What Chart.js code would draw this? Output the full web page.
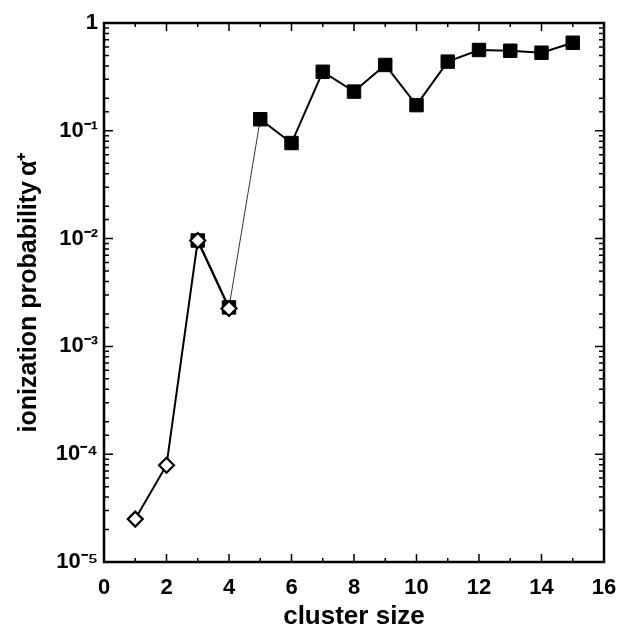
<!DOCTYPE html>
<html>
<head>
<meta charset="utf-8">
<script src="https://cdn.jsdelivr.net/npm/chart.js@4"></script>
<style>
  html, body { margin: 0; padding: 0; background: #fff; }
  #wrap { width: 619px; height: 632px; }
</style>
</head>
<body>
<div id="wrap"><canvas id="c" width="619" height="632"></canvas></div>
<script>
// ---- data ----
const diamondSizes = [1, 2, 3, 4];
const diamondValues = [2.5e-5, 7.9e-5, 9.6e-3, 2.25e-3];
const squareSizes = [3, 4, 5, 6, 7, 8, 9, 10, 11, 12, 13, 14, 15];
const squareValues = [9.6e-3, 2.3e-3, 0.128, 0.077, 0.353, 0.231, 0.408, 0.173, 0.438, 0.562, 0.553, 0.530, 0.656];
const xTickLabels = ['0', '2', '4', '6', '8', '10', '12', '14', '16'];
const yTickLabels = { '1e-5': '10\u207B\u2075', '1e-4': '10\u207B\u2074', '1e-3': '10\u207B\u00B3', '1e-2': '10\u207B\u00B2', '1e-1': '10\u207B\u00B9', '1': '1' };

const FONT = "'Liberation Sans', Arial, sans-serif";

const toXY = (xs, ys) => xs.map((x, i) => ({ x: x, y: ys[i] }));

const innerTicks = {
  id: 'innerTicks',
  afterDraw(chart) {
    const ctx = chart.ctx;
    const a = chart.chartArea;
    const xs = chart.scales.x, ys = chart.scales.y;
    ctx.save();
    ctx.strokeStyle = '#000';
    ctx.lineWidth = 1.5;
    ctx.beginPath();
    xs.ticks.forEach(t => {
      const px = xs.getPixelForValue(t.value);
      const len = (Math.round(t.value) % 2 === 0) ? 8 : 4;
      ctx.moveTo(px, a.bottom); ctx.lineTo(px, a.bottom - len);
      ctx.moveTo(px, a.top); ctx.lineTo(px, a.top + len);
    });
    ys.ticks.forEach(t => {
      const py = ys.getPixelForValue(t.value);
      const lg = Math.log10(t.value);
      const len = Math.abs(lg - Math.round(lg)) < 1e-6 ? 9 : 5;
      ctx.moveTo(a.left, py); ctx.lineTo(a.left + len, py);
      ctx.moveTo(a.right, py); ctx.lineTo(a.right - len, py);
    });
    ctx.stroke();
    ctx.lineWidth = 2.5;
    ctx.strokeRect(a.left, a.top, a.right - a.left, a.bottom - a.top);
    ctx.restore();
  }
};

new Chart(document.getElementById('c'), {
  type: 'line',
  data: {
    datasets: [
      {
        label: 'squares',
        data: toXY(squareSizes, squareValues),
        borderColor: '#000',
        borderWidth: 2,
        backgroundColor: '#000',
        pointStyle: 'rect',
        pointRadius: 9.5,
        pointBorderWidth: 1,
        pointBackgroundColor: '#000',
        tension: 0,
        order: 2,
        segment: {
          borderWidth: c => c.p0.parsed.x === 4 ? 1 : 2,
          borderColor: c => c.p0.parsed.x === 4 ? '#333' : '#000'
        }
      },
      {
        label: 'diamonds',
        data: toXY(diamondSizes, diamondValues),
        borderColor: '#000',
        borderWidth: 2,
        pointStyle: 'rectRot',
        pointRadius: 7.5,
        pointBorderWidth: 2.2,
        pointBackgroundColor: '#fff',
        pointBorderColor: '#000',
        tension: 0,
        order: 1
      }
    ]
  },
  options: {
    responsive: false,
    animation: false,
    devicePixelRatio: 1,
    layout: { padding: { top: 23, right: 15, left: 0, bottom: 0 } },
    plugins: { legend: { display: false }, tooltip: { enabled: false } },
    scales: {
      x: {
        type: 'linear',
        min: 0, max: 16,
        grid: { display: false, drawTicks: false },
        border: { display: false },
        ticks: {
          stepSize: 1,
          autoSkip: false,
          maxRotation: 0,
          padding: 13,
          color: '#000',
          font: { family: FONT, size: 22, weight: 'bold' },
          callback: v => (v % 2 === 0) ? xTickLabels[v / 2] : ''
        },
        title: {
          display: true,
          text: 'cluster size',
          color: '#000',
          font: { family: FONT, size: 26, weight: 'bold' },
          padding: { top: 0, bottom: 0 }
        },
        afterFit: s => { s.height = 70; s.paddingLeft = 0; s.paddingRight = 0; }
      },
      y: {
        type: 'logarithmic',
        min: 1e-5, max: 1,
        grid: { display: false, drawTicks: false },
        border: { display: false },
        ticks: {
          autoSkip: false,
          padding: 6,
          color: '#000',
          font: { family: FONT, size: 22, weight: 'bold' },
          callback: v => {
            const lg = Math.log10(v);
            if (Math.abs(lg - Math.round(lg)) < 1e-6) {
              const k = Math.round(lg) === 0 ? '1' : '1e' + Math.round(lg);
              return yTickLabels[k] || '';
            }
            return '';
          }
        },
        title: {
          display: true,
          text: 'ionization probability\u2009\u03B1\u207A',
          color: '#000',
          font: { family: FONT, size: 25, weight: 'bold' },
          padding: { top: 14, bottom: 0 }
        },
        afterFit: s => { s.width = 104; s.paddingTop = 0; s.paddingBottom = 0; }
      }
    }
  },
  plugins: [innerTicks]
});
</script>
</body>
</html>
